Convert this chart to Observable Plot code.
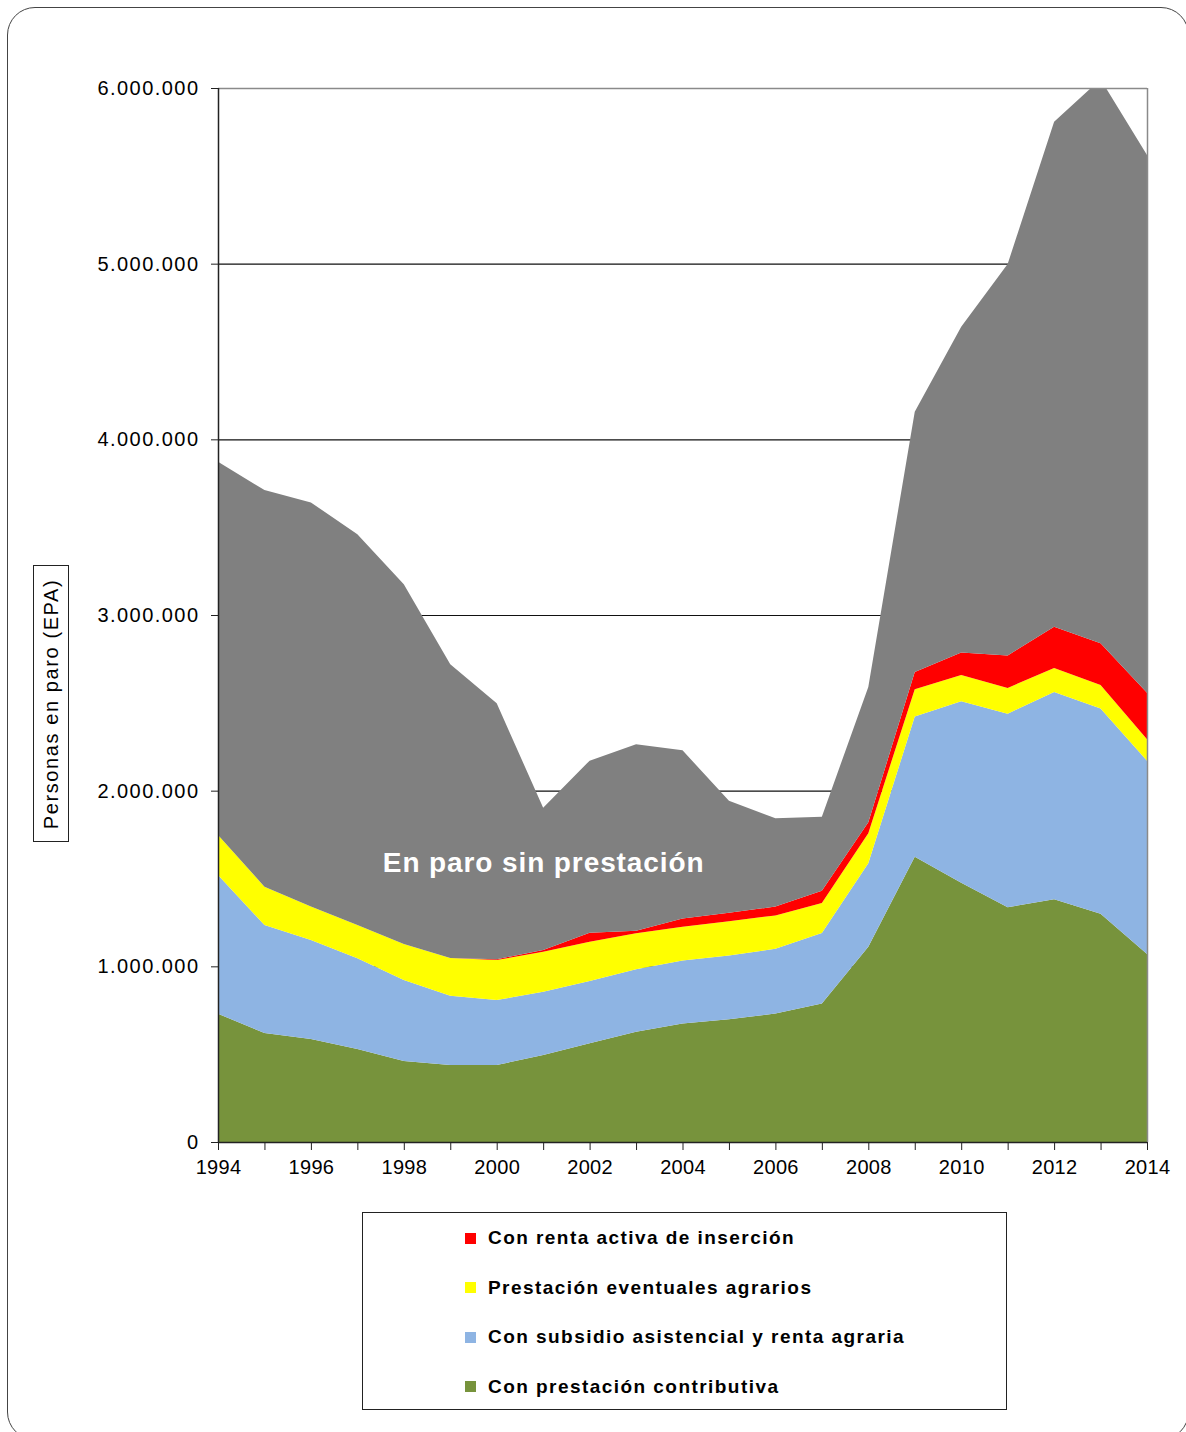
<!DOCTYPE html>
<html lang="es">
<head>
<meta charset="utf-8">
<script src="https://cdn.jsdelivr.net/npm/d3@7"></script>
<script src="https://cdn.jsdelivr.net/npm/@observablehq/plot@0.6"></script>
<style>
  html, body { margin: 0; padding: 0; background: #fff; }
  body { width: 1186px; height: 1432px; position: relative; overflow: hidden;
         font-family: "Liberation Sans", Arial, sans-serif; }
  #frame { position: absolute; left: 7px; top: 7px; width: 1182px; height: 1433px;
           border: 1.5px solid #444; border-radius: 28px; box-sizing: border-box; }
  #chart { position: absolute; left: 0; top: 0; }
  #chart svg [aria-label="y-axis tick label"] text { letter-spacing: 1.45px; }
  #chart svg [aria-label="x-axis tick label"] text { letter-spacing: 0.3px; }
  #chart svg [aria-label="text"] text { letter-spacing: 0.9px; }
  #ytitle { position: absolute; left: 33px; top: 565px; width: 36px; height: 277px;
            border: 1.2px solid #222; box-sizing: border-box; background: #fff; }
  #ytitle span { position: absolute; left: 50%; top: 50%; white-space: nowrap;
                 transform: translate(-50%, -50%) rotate(-90deg); font-size: 20px;
                 letter-spacing: 1.6px; color: #000; }
  #legend { position: absolute; left: 362px; top: 1212px; width: 645px; height: 198px;
            border: 1.2px solid #222; box-sizing: border-box; background: #fff; }
  .item { position: absolute; left: 102px; height: 24px; display: flex; align-items: center;
          font-weight: bold; font-size: 19px; color: #000; letter-spacing: 1.45px; }
  .swatch { width: 11px; height: 11px; margin-right: 12px; }
</style>
</head>
<body>
<div id="frame"></div>
<div id="chart"></div>
<div id="ytitle"><span>Personas en paro (EPA)</span></div>
<div id="legend"></div>
<script>
// Años de la serie
const years = [1994, 1995, 1996, 1997, 1998, 1999, 2000, 2001, 2002, 2003, 2004,
               2005, 2006, 2007, 2008, 2009, 2010, 2011, 2012, 2013, 2014];

// Personas en paro según tipo de protección (media anual)
const conPrestacionContributiva = [730000, 620000, 586000, 529000, 461000, 438000, 438000,
  495000, 562000, 628000, 674000, 699000, 731000, 789000, 1111000, 1624000, 1476000,
  1336000, 1382000, 1299000, 1070000];
const conSubsidioAsistencial = [790000, 615000, 564000, 517000, 461000, 395000, 370000,
  361000, 355000, 355000, 359000, 362000, 369000, 401000, 476000, 798000, 1033000,
  1102000, 1180000, 1169000, 1101000];
const prestacionEventualesAgrarios = [228000, 218000, 190000, 189000, 205000, 214000, 228000,
  227000, 223000, 205000, 192000, 196000, 190000, 171000, 171000, 156000, 149000,
  147000, 137000, 133000, 121000];
const conRentaActivaInsercion = [0, 0, 0, 0, 0, 0, 5000, 10000, 51000, 15000, 48000, 48000,
  50000, 69000, 62000, 98000, 129000, 185000, 234000, 238000, 265000];
const enParoSinPrestacion = [2125000, 2258000, 2301000, 2224000, 2048000, 1672000, 1456000,
  810000, 980000, 1061000, 957000, 637000, 503000, 422000, 770000, 1481000, 1854000,
  2228000, 2875000, 3211000, 3061000];

// Series de abajo arriba, con su color
const seriesNames = [
  "Con prestación contributiva",
  "Con subsidio asistencial y renta agraria",
  "Prestación eventuales agrarios",
  "Con renta activa de inserción",
  "En paro sin prestación"
];
const seriesValues = [
  conPrestacionContributiva,
  conSubsidioAsistencial,
  prestacionEventualesAgrarios,
  conRentaActivaInsercion,
  enParoSinPrestacion
];
const seriesColors = ["#77933C", "#8EB4E3", "#FFFF00", "#FF0000", "#808080"];

const yTicks = [0, 1000000, 2000000, 3000000, 4000000, 5000000, 6000000];
const label = "En paro sin prestación";

const rows = seriesNames.flatMap((serie, i) =>
  years.map((year, j) => ({serie, year, value: seriesValues[i][j]})));

const es = d3.formatLocale({decimal: ",", thousands: ".", grouping: [3], currency: ["", " €"]});
const fmt = es.format(",");

const chart = Plot.plot({
  width: 1186,
  height: 1200,
  marginLeft: 218,
  marginRight: 39,
  marginTop: 88,
  marginBottom: 58,
  style: {fontFamily: "'Liberation Sans', Arial, sans-serif", fontSize: "20px", color: "#000", background: "transparent"},
  x: {domain: [1994, 2014]},
  y: {domain: [0, 6000000]},
  color: {domain: seriesNames, range: seriesColors},
  marks: [
    Plot.ruleY(yTicks.slice(1, -1), {stroke: "#111", strokeWidth: 1.2}),
    Plot.areaY(rows, {x: "year", y: "value", fill: "serie", order: seriesNames, clip: true}),
    Plot.ruleY([6000000], {stroke: "#8a8a8a", strokeWidth: 1.5}),
    Plot.ruleX([2014], {stroke: "#8a8a8a", strokeWidth: 1.5}),
    Plot.ruleX([1994], {stroke: "#222", strokeWidth: 1.5}),
    Plot.ruleY([0], {stroke: "#222", strokeWidth: 1.5}),
    Plot.axisY({ticks: yTicks, tickFormat: fmt, tickSize: 7, tickPadding: 12, label: null, stroke: "#222"}),
    Plot.axisX({ticks: years, tickFormat: d => d % 2 ? "" : String(d), tickSize: 8, tickPadding: 9, label: null, stroke: "#222"}),
    Plot.text([{year: 2001, value: 1600000, label}], {
      x: "year", y: "value", text: "label", fill: "#fff",
      fontSize: 28, fontWeight: "bold", dy: 2
    })
  ]
});
document.getElementById("chart").appendChild(chart);

// Leyenda, de arriba abajo
const legend = document.getElementById("legend");
const legendOrder = [3, 2, 1, 0];
legendOrder.forEach((k, i) => {
  const item = document.createElement("div");
  item.className = "item";
  item.style.top = (13 + i * 49.5) + "px";
  const sw = document.createElement("span");
  sw.className = "swatch";
  sw.style.background = seriesColors[k];
  const tx = document.createElement("span");
  tx.textContent = seriesNames[k];
  item.appendChild(sw);
  item.appendChild(tx);
  legend.appendChild(item);
});
</script>
</body>
</html>
